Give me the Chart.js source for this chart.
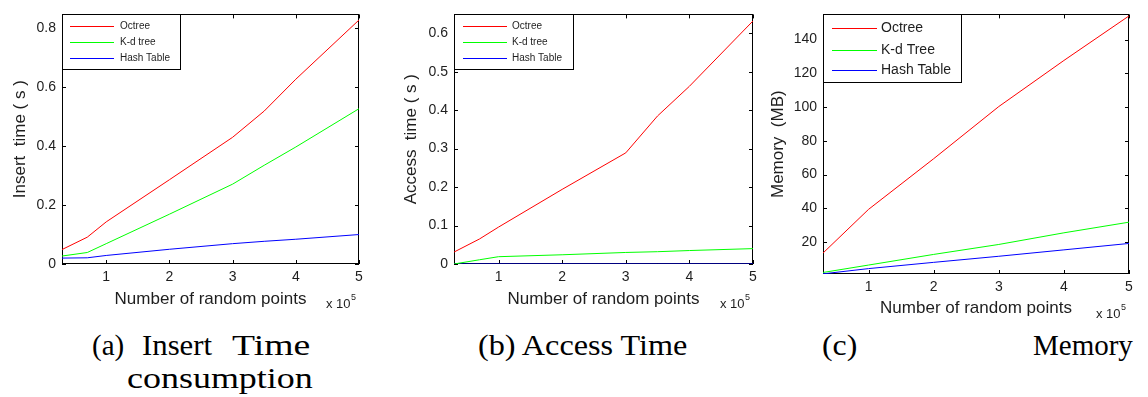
<!DOCTYPE html>
<html>
<head>
<meta charset="utf-8">
<script src="https://cdn.jsdelivr.net/npm/chart.js@4.4.0/dist/chart.umd.min.js"></script>
<style>
  body { margin: 0; background: #fff; }
  #wrap { position: relative; width: 1148px; height: 397px; overflow: hidden; background: #fff; }
  #wrap canvas { position: absolute; top: 0; }
  .cap {
    position: absolute;
    font-family: "Liberation Serif", "Times New Roman", serif;
    font-size: 29px;
    line-height: 29px;
    white-space: nowrap;
    color: #000;
    transform-origin: 0 0;
  }
</style>
</head>
<body>
<div id="wrap">
  <canvas id="chartA" width="372" height="320" style="left:0px"></canvas>
  <canvas id="chartB" width="375" height="320" style="left:390px"></canvas>
  <canvas id="chartC" width="383" height="320" style="left:765px"></canvas>

  <div class="cap" data-w="32" style="left:92px;top:331px">(a)</div>
  <div class="cap" data-w="70" style="left:142px;top:331px">Insert</div>
  <div class="cap" data-w="78" style="left:232px;top:331px">Time</div>
  <div class="cap" data-w="186" style="left:127px;top:364px">consumption</div>
  <div class="cap" data-w="210" style="left:478px;top:331px">(b) Access Time</div>
  <div class="cap" data-w="35" style="left:822px;top:331px">(c)</div>
  <div class="cap" data-w="100" style="left:1033px;top:331px">Memory</div>
</div>

<script>
// x values are in units of 10^5 points
const xTicks = [1, 2, 3, 4, 5];
const seriesLabels = ['Octree', 'K-d tree', 'Hash Table'];
const seriesLabelsMem = ['Octree', 'K-d Tree', 'Hash Table'];
const seriesColors = ['#ff0000', '#00ff00', '#0000ff'];

// (a) insert time, seconds
const insertX = [0.3, 0.7, 1, 2, 3, 3.5, 4, 5];
const insertOctree = [0.049, 0.091, 0.143, 0.286, 0.43, 0.519, 0.627, 0.828];
const insertKd = [0.027, 0.039, 0.069, 0.169, 0.271, 0.335, 0.397, 0.527];
const insertHash = [0.02, 0.021, 0.029, 0.05, 0.069, 0.077, 0.084, 0.1];
const insertYTicks = [0, 0.2, 0.4, 0.6, 0.8];

// (b) access time, seconds
const accessX = [0.3, 0.7, 1, 2, 3, 3.5, 4, 5];
const accessOctree = [0.031, 0.065, 0.096, 0.194, 0.289, 0.385, 0.462, 0.632];
const accessKd = [0, 0.011, 0.019, 0.024, 0.03, 0.032, 0.035, 0.04];
const accessHash = [0, 0, 0, 0, 0, 0, 0, 0];
const accessYTicks = [0, 0.1, 0.2, 0.3, 0.4, 0.5, 0.6];

// (c) memory, MB
const memX = [0.3, 1, 2, 3, 4, 5];
const memOctree = [13.5, 39.4, 69.4, 100.3, 127.6, 154];
const memKd = [2.0, 6.4, 12.7, 18.6, 25.5, 31.8];
const memHash = [1.2, 4.3, 8.0, 11.6, 15.4, 19.2];
const memYTicks = [20, 40, 60, 80, 100, 120, 140];

const textColor = '#1e1e1e';
const sansFont = "'Liberation Sans', Arial, sans-serif";

Chart.defaults.font.family = sansFont;
Chart.defaults.color = textColor;

// MATLAB style box with inward ticks, drawn under the lines
const framePlugin = {
    id: 'frame',
    beforeDatasetsDraw(chart, args, opts) {
        const ctx = chart.ctx;
        const a = chart.chartArea;
        const sx = chart.scales.x;
        const sy = chart.scales.y;
        ctx.save();
        ctx.strokeStyle = '#000';
        ctx.lineWidth = 1;
        ctx.strokeRect(Math.round(a.left) + 0.5, Math.round(a.top) + 0.5,
            Math.round(a.right - a.left) - 1, Math.round(a.bottom - a.top) - 1);
        ctx.beginPath();
        sx.ticks.forEach(t => {
            const px = Math.round(sx.getPixelForValue(t.value)) + 0.5;
            ctx.moveTo(px, a.bottom);
            ctx.lineTo(px, a.bottom - opts.tickLen);
            ctx.moveTo(px, a.top);
            ctx.lineTo(px, a.top + opts.tickLen);
        });
        sy.ticks.forEach(t => {
            const py = Math.round(sy.getPixelForValue(t.value)) + 0.5;
            ctx.moveTo(a.left, py);
            ctx.lineTo(a.left + opts.tickLen, py);
            ctx.moveTo(a.right, py);
            ctx.lineTo(a.right - opts.tickLen, py);
        });
        ctx.stroke();
        ctx.restore();
    }
};

// legend box inside the axes and the x10^5 note
const legendBoxPlugin = {
    id: 'legendBox',
    afterDraw(chart, args, opts) {
        const ctx = chart.ctx;
        const a = chart.chartArea;
        ctx.save();
        const bx = Math.round(a.left);
        const by = Math.round(a.top);
        ctx.fillStyle = '#ffffff';
        ctx.fillRect(bx, by, opts.w, opts.h);
        ctx.fillStyle = '#000000';
        ctx.fillRect(bx, by, opts.w, 1);
        ctx.fillRect(bx, by + opts.h, opts.w + 1, 1);
        ctx.fillRect(bx, by, 1, opts.h);
        ctx.fillRect(bx + opts.w, by, 1, opts.h);
        ctx.font = opts.font + 'px ' + sansFont;
        ctx.textBaseline = 'middle';
        ctx.textAlign = 'left';
        opts.labels.forEach((label, i) => {
            const y = by + opts.rows[i];
            ctx.fillStyle = seriesColors[i];
            ctx.fillRect(bx + opts.x0, y, opts.x1 - opts.x0, 1);
            ctx.fillStyle = textColor;
            ctx.fillText(label, bx + opts.xt, y + 0.5);
        });
        ctx.fillStyle = textColor;
        ctx.textBaseline = 'alphabetic';
        ctx.font = '13px ' + sansFont;
        const ex = a.right - 33;
        const ey = a.bottom + 44;
        ctx.fillText('x 10', ex, ey);
        const w = ctx.measureText('x 10').width;
        ctx.font = '9px ' + sansFont;
        ctx.fillText('5', ex + w + 0.5, ey - 8);
        ctx.restore();
    }
};

function makeChart(id, xs, ys, labels, g) {
    const datasets = ys.map((vals, i) => ({
        label: labels[i],
        data: vals.map((v, j) => ({ x: xs[j], y: v })),
        borderColor: seriesColors[i],
        backgroundColor: seriesColors[i],
        borderWidth: 1,
        pointRadius: 0,
        tension: 0,
        fill: false
    }));

    return new Chart(document.getElementById(id), {
        type: 'line',
        data: { datasets: datasets },
        plugins: [framePlugin, legendBoxPlugin],
        options: {
            responsive: false,
            animation: false,
            layout: { padding: { top: g.padTop, right: g.padRight, left: 0, bottom: 0 } },
            plugins: {
                legend: { display: false },
                tooltip: { enabled: false },
                frame: { tickLen: 4 },
                legendBox: Object.assign({ labels: labels }, g.legend)
            },
            scales: {
                x: {
                    type: 'linear',
                    min: 0.3,
                    max: 5,
                    grid: { display: false, drawTicks: false },
                    border: { display: false },
                    afterBuildTicks: s => { s.ticks = xTicks.map(v => ({ value: v })); },
                    afterFit: s => { s.height = g.xHeight; },
                    ticks: {
                        padding: 5,
                        autoSkip: false,
                        maxRotation: 0,
                        font: { size: 14 },
                        callback: v => String(v)
                    },
                    title: {
                        display: true,
                        text: 'Number of random points',
                        font: { size: 17 },
                        padding: { top: 0, bottom: g.xTitlePad }
                    }
                },
                y: {
                    type: 'linear',
                    min: g.yMin,
                    max: g.yMax,
                    grid: { display: false, drawTicks: false },
                    border: { display: false },
                    afterBuildTicks: s => { s.ticks = g.yTicks.map(v => ({ value: v })); },
                    afterFit: s => { s.width = g.yWidth; },
                    ticks: {
                        padding: 6,
                        font: { size: 14 },
                        callback: v => String(v)
                    },
                    title: {
                        display: true,
                        text: g.yTitle,
                        font: { size: 17 },
                        padding: { top: g.yTitlePad, bottom: 0 }
                    }
                }
            }
        }
    });
}

// legend rows sit on even pixel rows so thin coloured strokes survive the capture
makeChart('chartA', insertX, [insertOctree, insertKd, insertHash], seriesLabels, {
    yMin: 0, yMax: 0.847, yTicks: insertYTicks, yTitle: 'Insert  time ( s )',
    padTop: 10, padRight: 13, yWidth: 62, xHeight: 56, xTitlePad: 10, yTitlePad: 10,
    legend: { w: 118, h: 55, x0: 8, x1: 52, xt: 58, rows: [12, 28, 44], font: 10 }
});

makeChart('chartB', accessX, [accessOctree, accessKd, accessHash], seriesLabels, {
    yMin: 0, yMax: 0.649, yTicks: accessYTicks, yTitle: 'Access  time ( s )',
    padTop: 10, padRight: 12, yWidth: 64, xHeight: 56, xTitlePad: 10, yTitlePad: 11,
    legend: { w: 119, h: 55, x0: 9, x1: 53, xt: 58, rows: [12, 28, 44], font: 10 }
});

makeChart('chartC', memX, [memOctree, memKd, memHash], seriesLabelsMem, {
    yMin: 1.1, yMax: 154.9, yTicks: memYTicks, yTitle: 'Memory  (MB)',
    padTop: 6, padRight: 19, yWidth: 58, xHeight: 46, xTitlePad: 1, yTitlePad: 3,
    legend: { w: 138, h: 68, x0: 9, x1: 54, xt: 58, rows: [14, 36, 56], font: 14 }
});

// stretch the caption pieces to the widths of the printed figure
document.querySelectorAll('.cap').forEach(el => {
    const k = parseFloat(el.dataset.w) / el.offsetWidth;
    el.style.transform = 'scaleX(' + k.toFixed(3) + ')';
});
</script>
</body>
</html>
